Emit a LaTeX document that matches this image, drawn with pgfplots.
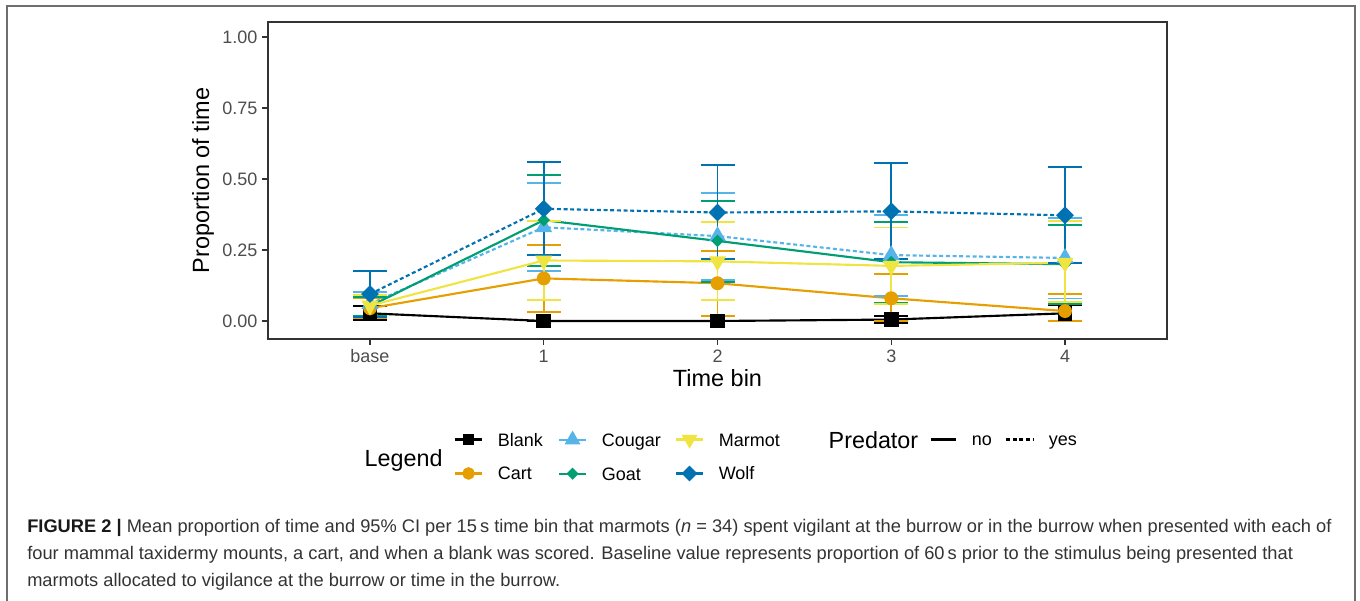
\documentclass[border=0pt]{standalone}
\usepackage{pgfplots}
\usepackage{pgfplotstable}
\pgfplotsset{compat=1.18}
\usepackage{fontspec}
\setmainfont{Liberation Sans}
\definecolor{cBlank}{HTML}{000000}
\definecolor{cCart}{HTML}{E69F00}
\definecolor{cCougar}{HTML}{56B4E9}
\definecolor{cGoat}{HTML}{009E73}
\definecolor{cMarmot}{HTML}{F0E442}
\definecolor{cWolf}{HTML}{0072B2}
\definecolor{tickgrey}{HTML}{4D4D4D}
\definecolor{axisgrey}{HTML}{333333}
\definecolor{framegrey}{HTML}{6E6E6E}
\definecolor{captext}{HTML}{333333}

% x: 0 = base, 1..4 time bins; y mean; ep/em = upper/lower CI half-width
\pgfplotstableread{
x y ep em
0 0.027 0.026 0.025
1 0.000 0.000 0.000
2 0.000 0.000 0.000
3 0.005 0.014 0.013
4 0.027 0.029 0.029
}\tBlank
\pgfplotstableread{
x y ep em
0 0.045 0.035 0.035
1 0.150 0.118 0.117
2 0.133 0.113 0.114
3 0.080 0.085 0.080
4 0.035 0.060 0.035
}\tCart
\pgfplotstableread{
x y ep em
0 0.060 0.042 0.047
1 0.330 0.157 0.153
2 0.299 0.151 0.155
3 0.232 0.141 0.144
4 0.222 0.142 0.143
}\tCougar
\pgfplotstableread{
x y ep em
0 0.052 0.034 0.034
1 0.355 0.160 0.160
2 0.282 0.141 0.145
3 0.207 0.143 0.142
4 0.200 0.139 0.140
}\tGoat
\pgfplotstableread{
x y ep em
0 0.054 0.038 0.038
1 0.213 0.139 0.139
2 0.210 0.139 0.136
3 0.194 0.135 0.134
4 0.205 0.147 0.137
}\tMarmot
\pgfplotstableread{
x y ep em
0 0.095 0.082 0.082
1 0.395 0.164 0.164
2 0.382 0.166 0.165
3 0.386 0.170 0.169
4 0.372 0.169 0.167
}\tWolf

\pgfplotsset{
  ser/.style={line width=1.6pt,
    /pgfplots/error bars/y dir=both, /pgfplots/error bars/y explicit,
    /pgfplots/error bars/error bar style={line width=1.4pt, solid},
    /pgfplots/error bars/error mark=-,
    /pgfplots/error bars/error mark options={rotate=90, mark size=12.75pt, line width=1.4pt, solid}},
  dashy/.style={dash pattern=on 3pt off 2pt},
  keylegend/.style={hide axis, scale only axis, width=1pt, height=1pt,
    xmin=0, xmax=1, ymin=0, ymax=1, anchor=north west,
    legend cell align=left,
    legend style={at={(0,1)}, anchor=north west, draw=none, fill=none,
      inner sep=0pt, outer sep=0pt, row sep=12.5pt, column sep=11pt,
      font=\fontsize{13.5}{16}\selectfont,
      nodes={inner sep=0pt, text height=10pt, text depth=3pt}},
    legend image code/.code={\draw[mark repeat=2, mark phase=2, ##1]
      plot coordinates {(0pt,1.4pt)(10.1pt,1.4pt)(20.25pt,1.4pt)};}},
  linekey/.style={legend image code/.code={\draw[##1] (0pt,1.4pt) -- (#1,1.4pt);}},
}

\begin{document}
\begin{tikzpicture}
\useasboundingbox (0pt,0pt) rectangle (1020pt,450pt);
\draw[framegrey, line width=1.1pt] (5.25pt,-2pt) -- (5.25pt,445.5pt) -- (1016.25pt,445.5pt) -- (1016.25pt,-2pt);

\begin{axis}[
  at={(201pt,195.75pt)}, anchor=south west,
  scale only axis, width=674.25pt, height=237.75pt,
  xmin=-0.587, xmax=4.587, ymin=-0.0634, ymax=1.0528,
  xtick={0,1,2,3,4}, xticklabels={base,1,2,3,4},
  ytick={0,0.25,0.5,0.75,1}, yticklabels={0.00,0.25,0.50,0.75,1.00},
  xtick pos=left, ytick pos=left,
  tick align=outside, major tick length=4.5pt,
  tick style={color=axisgrey, line width=1pt},
  axis line style={color=axisgrey, line width=1pt},
  ticklabel style={font=\fontsize{13.5}{16}\selectfont, text=tickgrey},
  xlabel={Time bin}, ylabel={Proportion of time},
  label style={font=\fontsize{17.6}{20}\selectfont},
  xlabel style={at={(axis description cs:0.5,-0.123)}, anchor=center},
  ylabel style={at={(axis description cs:-0.0723,0.5)}, anchor=center},
]
\addplot[cBlank, ser, mark=square*, mark size=4.8pt, mark options={solid}]
  table[x=x, y=y, y error plus=ep, y error minus=em] {\tBlank};
\addplot[cCart, ser, mark=*, mark size=4.4pt, mark options={solid}]
  table[x=x, y=y, y error plus=ep, y error minus=em] {\tCart};
\addplot[cCougar, ser, dashy, mark=triangle*, mark size=5.8pt, mark options={solid}]
  table[x=x, y=y, y error plus=ep, y error minus=em] {\tCougar};
\addplot[cGoat, ser, mark=square*, mark size=2.5pt, mark options={solid, rotate=45}]
  table[x=x, y=y, y error plus=ep, y error minus=em] {\tGoat};
\addplot[cMarmot, ser, mark=triangle*, mark size=5.8pt, mark options={solid, rotate=180}]
  table[x=x, y=y, y error plus=ep, y error minus=em] {\tMarmot};
\addplot[cWolf, ser, dashy, mark=square*, mark size=3.9pt, mark options={solid, rotate=45}]
  table[x=x, y=y, y error plus=ep, y error minus=em] {\tWolf};
\end{axis}

% legend: animals
\node[anchor=west, font=\fontsize{17.5}{20}\selectfont] at (270pt,105pt) {Legend};
\begin{axis}[keylegend, at={(340.5pt,125.5pt)}]
\addlegendimage{cBlank, line width=1.6pt, mark=square*, mark size=3.6pt}
\addlegendentry{Blank}
\addlegendimage{cCart, line width=1.6pt, mark=*, mark size=3.9pt}
\addlegendentry{Cart}
\end{axis}
\begin{axis}[keylegend, at={(418.5pt,125.5pt)}]
\addlegendimage{cCougar, line width=1.6pt, mark=triangle*, mark size=5.3pt}
\addlegendentry{Cougar}
\addlegendimage{cGoat, line width=1.6pt, mark=square*, mark size=2.4pt, mark options={rotate=45}}
\addlegendentry{Goat}
\end{axis}
\begin{axis}[keylegend, at={(506.25pt,125.5pt)}]
\addlegendimage{cMarmot, line width=1.6pt, mark=triangle*, mark size=5.3pt, mark options={rotate=180}}
\addlegendentry{Marmot}
\addlegendimage{cWolf, line width=1.6pt, mark=square*, mark size=3.4pt, mark options={rotate=45}}
\addlegendentry{Wolf}
\end{axis}

% legend: predator
\node[anchor=west, font=\fontsize{17.5}{20}\selectfont] at (618pt,120pt) {Predator};
\begin{axis}[keylegend, linekey=18.75pt, at={(697.5pt,125.5pt)}]
\addlegendimage{black, line width=1.6pt}
\addlegendentry{no}
\end{axis}
\begin{axis}[keylegend, linekey=20.25pt, at={(753.75pt,125.5pt)}]
\addlegendimage{black, line width=1.6pt, dashy}
\addlegendentry{yes}
\end{axis}

% caption
\node[anchor=north west, inner sep=0pt, align=left, text=captext,
  font=\fontsize{13.7}{20.25}\selectfont] at (20.25pt,60.5pt)
{\textbf{\color{black!90}FIGURE 2 |} Mean proportion of time and 95\% CI per 15\,s time bin that marmots (\textit{n} = 34) spent vigilant at the burrow or in the burrow when presented with each of\\
four mammal taxidermy mounts, a cart, and when a blank was scored. Baseline value represents proportion of 60\,s prior to the stimulus being presented that\\
marmots allocated to vigilance at the burrow or time in the burrow.};
\end{tikzpicture}
\end{document}
